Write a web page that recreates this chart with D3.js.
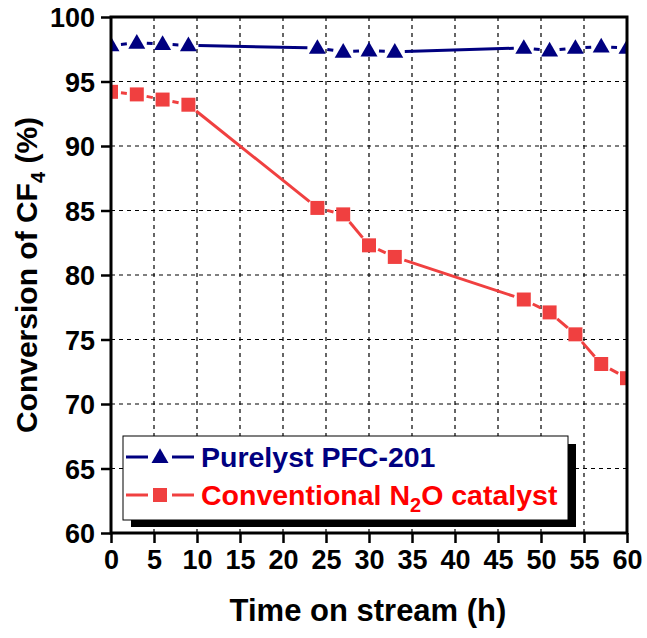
<!DOCTYPE html>
<html>
<head>
<meta charset="utf-8">
<title>Conversion of CF4</title>
<script src="https://cdn.jsdelivr.net/npm/d3@7"></script>
<style>
    body { margin: 0; background: #fff; }
    svg text { font-family: "Liberation Sans", Arial, sans-serif; font-weight: bold; }
</style>
</head>
<body>
<script>
// data
var hours = [0, 3, 6, 9, 24, 27, 30, 33, 48, 51, 54, 57, 60];
var purelyst = [97.8, 98.0, 97.9, 97.8, 97.6, 97.3, 97.4, 97.3, 97.6, 97.4, 97.6, 97.7, 97.6];
var conventional = [94.2, 94.0, 93.6, 93.2, 85.2, 84.7, 82.3, 81.4, 78.1, 77.1, 75.4, 73.1, 72.0];
var xTicks = [0, 5, 10, 15, 20, 25, 30, 35, 40, 45, 50, 55, 60];
var yTicks = [60, 65, 70, 75, 80, 85, 90, 95, 100];
var seriesNames = ["Purelyst PFC-201", "Conventional N2O catalyst"];

var width = 647, height = 638;
var pLeft = 111, pRight = 627, pTop = 17, pBottom = 533;

var x = d3.scaleLinear().domain([0, 60]).range([pLeft, pRight]);
var y = d3.scaleLinear().domain([60, 100]).range([pBottom, pTop]);

var blue = "#000080", red = "#f04040";

var svg = d3.select("body").append("svg")
    .attr("width", width)
    .attr("height", height);

// dashed grid
svg.append("g").selectAll("line")
    .data(xTicks.filter(function(d){ return d > 0 && d < 60; }))
    .enter().append("line")
    .attr("x1", function(d){ return x(d); }).attr("x2", function(d){ return x(d); })
    .attr("y1", pTop).attr("y2", pBottom)
    .attr("stroke", "#000").attr("stroke-width", 1.2).attr("stroke-dasharray", "4,4");
svg.append("g").selectAll("line")
    .data(yTicks.filter(function(d){ return d > 60 && d < 100; }))
    .enter().append("line")
    .attr("y1", function(d){ return y(d); }).attr("y2", function(d){ return y(d); })
    .attr("x1", pLeft).attr("x2", pRight)
    .attr("stroke", "#000").attr("stroke-width", 1.2).attr("stroke-dasharray", "4,4");

// lines with gaps around the symbols
var gap = 10;
function drawSeries(vals, color) {
    var g = svg.append("g");
    for (var i = 0; i < hours.length - 1; i++) {
        var x1 = x(hours[i]), y1 = y(vals[i]), x2 = x(hours[i + 1]), y2 = y(vals[i + 1]);
        var len = Math.sqrt((x2 - x1) * (x2 - x1) + (y2 - y1) * (y2 - y1));
        if (len <= 2 * gap) continue;
        var ux = (x2 - x1) / len, uy = (y2 - y1) / len;
        g.append("line")
            .attr("x1", x1 + ux * gap).attr("y1", y1 + uy * gap)
            .attr("x2", x2 - ux * gap).attr("y2", y2 - uy * gap)
            .attr("stroke", color).attr("stroke-width", 3);
    }
    return g;
}
drawSeries(purelyst, blue);
drawSeries(conventional, red);

var tri = d3.symbol().type(d3.symbolTriangle).size(125);
var sq = d3.symbol().type(d3.symbolSquare).size(196);

svg.append("clipPath").attr("id", "clip")
    .append("rect").attr("x", pLeft).attr("y", pTop).attr("width", pRight - pLeft).attr("height", pBottom - pTop);

svg.append("g").attr("clip-path", "url(#clip)").selectAll("path")
    .data(hours)
    .enter().append("path")
    .attr("d", tri)
    .attr("transform", function(d, i){ return "translate(" + x(d) + "," + (y(purelyst[i]) + 1) + ")"; })
    .attr("fill", blue);

svg.append("g").attr("clip-path", "url(#clip)").selectAll("path")
    .data(hours)
    .enter().append("path")
    .attr("d", sq)
    .attr("transform", function(d, i){ return "translate(" + x(d) + "," + y(conventional[i]) + ")"; })
    .attr("fill", red);

// axes
var axisX = d3.axisBottom(x).tickValues(xTicks).tickSize(10).tickPadding(5);
var gx = svg.append("g").attr("transform", "translate(0," + pBottom + ")").call(axisX);
var axisY = d3.axisLeft(y).tickValues(yTicks).tickSize(10).tickPadding(6);
var gy = svg.append("g").attr("transform", "translate(" + pLeft + ",0)").call(axisY);
[gx, gy].forEach(function(g){
    g.select(".domain").remove();
    g.selectAll(".tick line").attr("stroke", "#000").attr("stroke-width", 2.5);
    g.selectAll(".tick text").attr("fill", "#000").style("font-size", "27px");
});
gx.selectAll(".tick text").attr("dy", "0.76em");
gy.selectAll(".tick text").attr("dy", "0.36em");

// frame
svg.append("rect")
    .attr("x", pLeft).attr("y", pTop)
    .attr("width", pRight - pLeft).attr("height", pBottom - pTop)
    .attr("fill", "none").attr("stroke", "#000").attr("stroke-width", 3);

// axis titles
svg.append("text")
    .attr("x", 368).attr("y", 621)
    .attr("text-anchor", "middle")
    .style("font-size", "31px")
    .text("Time on stream (h)");

var yt = svg.append("text")
    .attr("transform", "translate(37," + ((pTop + pBottom) / 2 + 0) + ") rotate(-90)")
    .attr("text-anchor", "middle")
    .style("font-size", "30px");
yt.append("tspan").text("Conversion of CF");
yt.append("tspan").attr("dy", 8).style("font-size", "20px").text("4");
yt.append("tspan").attr("dy", -8).text(" (%)");

// legend
var lg = svg.append("g");
lg.append("rect").attr("x", 131).attr("y", 444).attr("width", 445).attr("height", 83).attr("fill", "#000");
lg.append("rect").attr("x", 123).attr("y", 436).attr("width", 445).attr("height", 84)
    .attr("fill", "#fff").attr("stroke", "#000").attr("stroke-width", 1);

var rows = [
    { y: 457, color: blue, sym: tri },
    { y: 495, color: red, sym: sq }
];
rows.forEach(function(r, i){
    lg.append("line").attr("x1", 126).attr("x2", 148).attr("y1", r.y).attr("y2", r.y)
        .attr("stroke", r.color).attr("stroke-width", 3);
    lg.append("line").attr("x1", 172).attr("x2", 194).attr("y1", r.y).attr("y2", r.y)
        .attr("stroke", r.color).attr("stroke-width", 3);
    lg.append("path").attr("d", r.sym)
        .attr("transform", "translate(160," + (r.y + (i === 0 ? 1 : 0)) + ")")
        .attr("fill", r.color);
});
lg.append("text").attr("x", 201).attr("y", 467).attr("fill", blue).style("font-size", "28.5px")
    .text(seriesNames[0]);
var t2 = lg.append("text").attr("x", 201).attr("y", 505).attr("fill", "#ff0000").style("font-size", "28.5px");
t2.append("tspan").text("Conventional N");
t2.append("tspan").attr("dy", 7).style("font-size", "20px").text("2");
t2.append("tspan").attr("dy", -7).text("O catalyst");
</script>
</body>
</html>
